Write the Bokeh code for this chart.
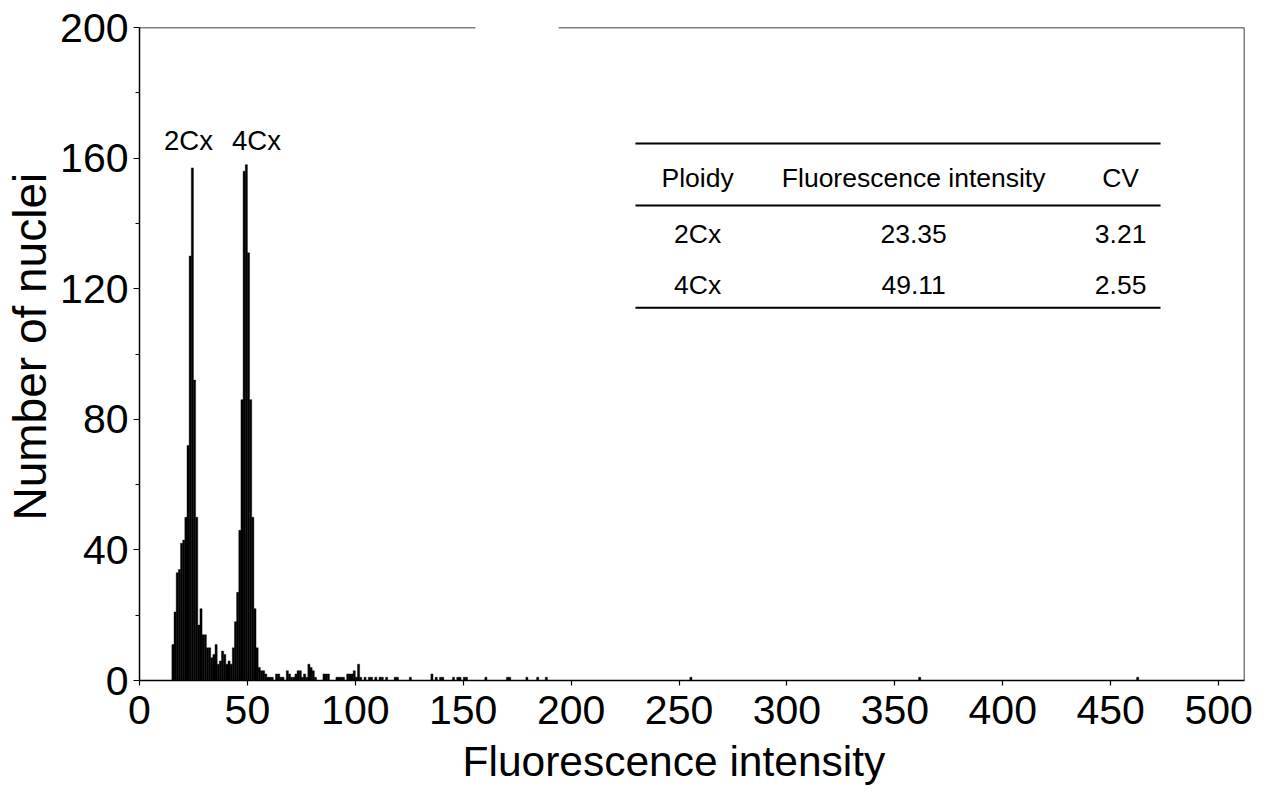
from bokeh.plotting import figure
from bokeh.models import Range1d, FixedTicker, ColumnDataSource, Title
from bokeh.core.properties import value
from bokeh.embed import file_html
from bokeh.resources import INLINE

# ---------------- data ----------------
channels = [15, 16, 17, 18, 19, 20, 21, 22, 23, 24, 25, 26, 27, 28, 29, 30,
            31, 32, 33, 34, 35, 36, 37, 38, 39, 40, 41, 42, 43, 44, 45, 46,
            47, 48, 49, 50, 51, 52, 53, 54, 55, 56, 57, 58, 59, 60, 61, 63,
            64, 65, 66, 68, 69, 70, 71, 72, 73, 74, 75, 76, 77, 78, 79, 80,
            81, 85, 86, 87, 91, 92, 93, 94, 96, 97, 98, 99, 100, 101, 102,
            104, 106, 107, 109, 111, 112, 114, 118, 119, 125, 135, 137, 139,
            140, 145, 147, 148, 150, 151, 160, 170, 171, 179, 184, 188, 255,
            361, 462]
counts = [11, 21, 33, 34, 42, 43, 50, 72, 130, 157, 92, 50, 17, 22, 14, 14,
          10, 10, 7, 8, 11, 5, 6, 9, 8, 5, 6, 5, 10, 18, 27, 46,
          86, 156, 158, 131, 86, 50, 22, 10, 4, 3, 3, 2, 1, 1, 1, 2,
          2, 1, 1, 3, 2, 1, 1, 2, 3, 3, 1, 2, 1, 5, 4, 3,
          1, 2, 2, 2, 1, 1, 1, 1, 2, 2, 2, 3, 1, 5, 1,
          1, 1, 1, 1, 1, 1, 1, 1, 1, 1, 2, 1, 1,
          1, 1, 1, 1, 1, 1, 1, 1, 1, 1, 1, 1, 1,
          1, 1]
BIN_WIDTH = 1

x_ticks = [0, 50, 100, 150, 200, 250, 300, 350, 400, 450, 500]
y_ticks = [0, 40, 80, 120, 160, 200]
y_minor = [20, 60, 100, 140, 180]

x_title = "Fluorescence intensity"
y_title = "Number of nuclei"

peak_labels = ["2Cx", "4Cx"]
peak_label_x = [22.7, 54.2]
peak_label_y = [165.4, 165.4]

table_header = ["Ploidy", "Fluorescence intensity", "CV"]
ploidy = ["2Cx", "4Cx"]
fluor = ["23.35", "49.11"]
cv = ["3.21", "2.55"]
table_col_x = [258.6, 358.7, 454.6]
table_header_y = 153.8
table_row_y = [136.9, 121.0]
table_rule_y = [164.5, 145.5, 114.2]
table_x0, table_x1 = 229.8, 473.1

X_MAX, Y_MAX = 512, 200
top_gap = (155.7, 194.2)

FONT = "Liberation Sans"

# ---------------- figure ----------------
p = figure(frame_width=1105, frame_height=653,
           x_range=Range1d(0, X_MAX), y_range=Range1d(0, Y_MAX),
           output_backend="svg", toolbar_location=None,
           min_border_left=139, min_border_top=27, min_border_right=14,
           min_border_bottom=10)
p.grid.visible = False
p.outline_line_color = None
p.background_fill_color = "white"
p.border_fill_color = "white"

# histogram
src = ColumnDataSource(dict(left=[c for c in channels],
                            right=[c + BIN_WIDTH for c in channels],
                            top=counts))
p.quad(left="left", right="right", bottom=0, top="top", source=src,
       fill_color="black", line_color="black", line_width=0.4)

# frame: right side and top with gap
p.segment(x0=[X_MAX], y0=[0], x1=[X_MAX], y1=[Y_MAX], line_color="black", line_width=1.5)
p.segment(x0=[0, top_gap[1]], y0=[Y_MAX, Y_MAX], x1=[top_gap[0], X_MAX], y1=[Y_MAX, Y_MAX],
          line_color="black", line_width=1.5)

# axes
for ax in (p.xaxis[0], p.yaxis[0]):
    ax.axis_line_color = "black"
    ax.axis_line_width = 1.5
    ax.major_tick_line_color = "black"
    ax.major_tick_line_width = 1.2
    ax.major_tick_in = 0
    ax.major_label_text_font = FONT
    ax.major_label_text_font_size = "41px"
    ax.major_label_text_color = "black"

p.xaxis.ticker = FixedTicker(ticks=x_ticks)
p.xaxis.major_tick_out = 5
p.xaxis.minor_tick_line_color = None
p.xaxis.major_label_standoff = 10

p.yaxis.ticker = FixedTicker(ticks=y_ticks, minor_ticks=y_minor)
p.yaxis.major_tick_out = 6
p.yaxis.minor_tick_out = 4
p.yaxis.minor_tick_in = 0
p.yaxis.minor_tick_line_color = "black"
p.yaxis.major_label_standoff = 5

# axis titles (placed as in the reference, slightly off-centre)
p.add_layout(Title(text=x_title, align="left", offset=323, standoff=18,
                   text_font=FONT, text_font_size="42.5px", text_font_style="normal",
                   text_color="black"), "below")
p.add_layout(Title(text=y_title, align="left", offset=160, standoff=3,
                   text_font=FONT, text_font_size="46px", text_font_style="normal",
                   text_color="black"), "left")

# peak labels
p.text(x=peak_label_x, y=peak_label_y, text=peak_labels,
       text_font=value(FONT), text_font_size="27.5px", text_color="black",
       text_align="center", text_baseline="middle")

# table inset
p.segment(x0=[table_x0] * 3, y0=table_rule_y, x1=[table_x1] * 3, y1=table_rule_y,
          line_color="black", line_width=2)
p.text(x=table_col_x, y=[table_header_y] * 3, text=table_header,
       text_font=value(FONT), text_font_size="26.5px", text_color="black",
       text_align="center", text_baseline="middle")
for i in range(len(ploidy)):
    p.text(x=table_col_x, y=[table_row_y[i]] * 3, text=[ploidy[i], fluor[i], cv[i]],
           text_font=value(FONT), text_font_size="26.5px", text_color="black",
           text_align="center", text_baseline="middle")

open("out.html", "w").write(file_html(p, INLINE))
